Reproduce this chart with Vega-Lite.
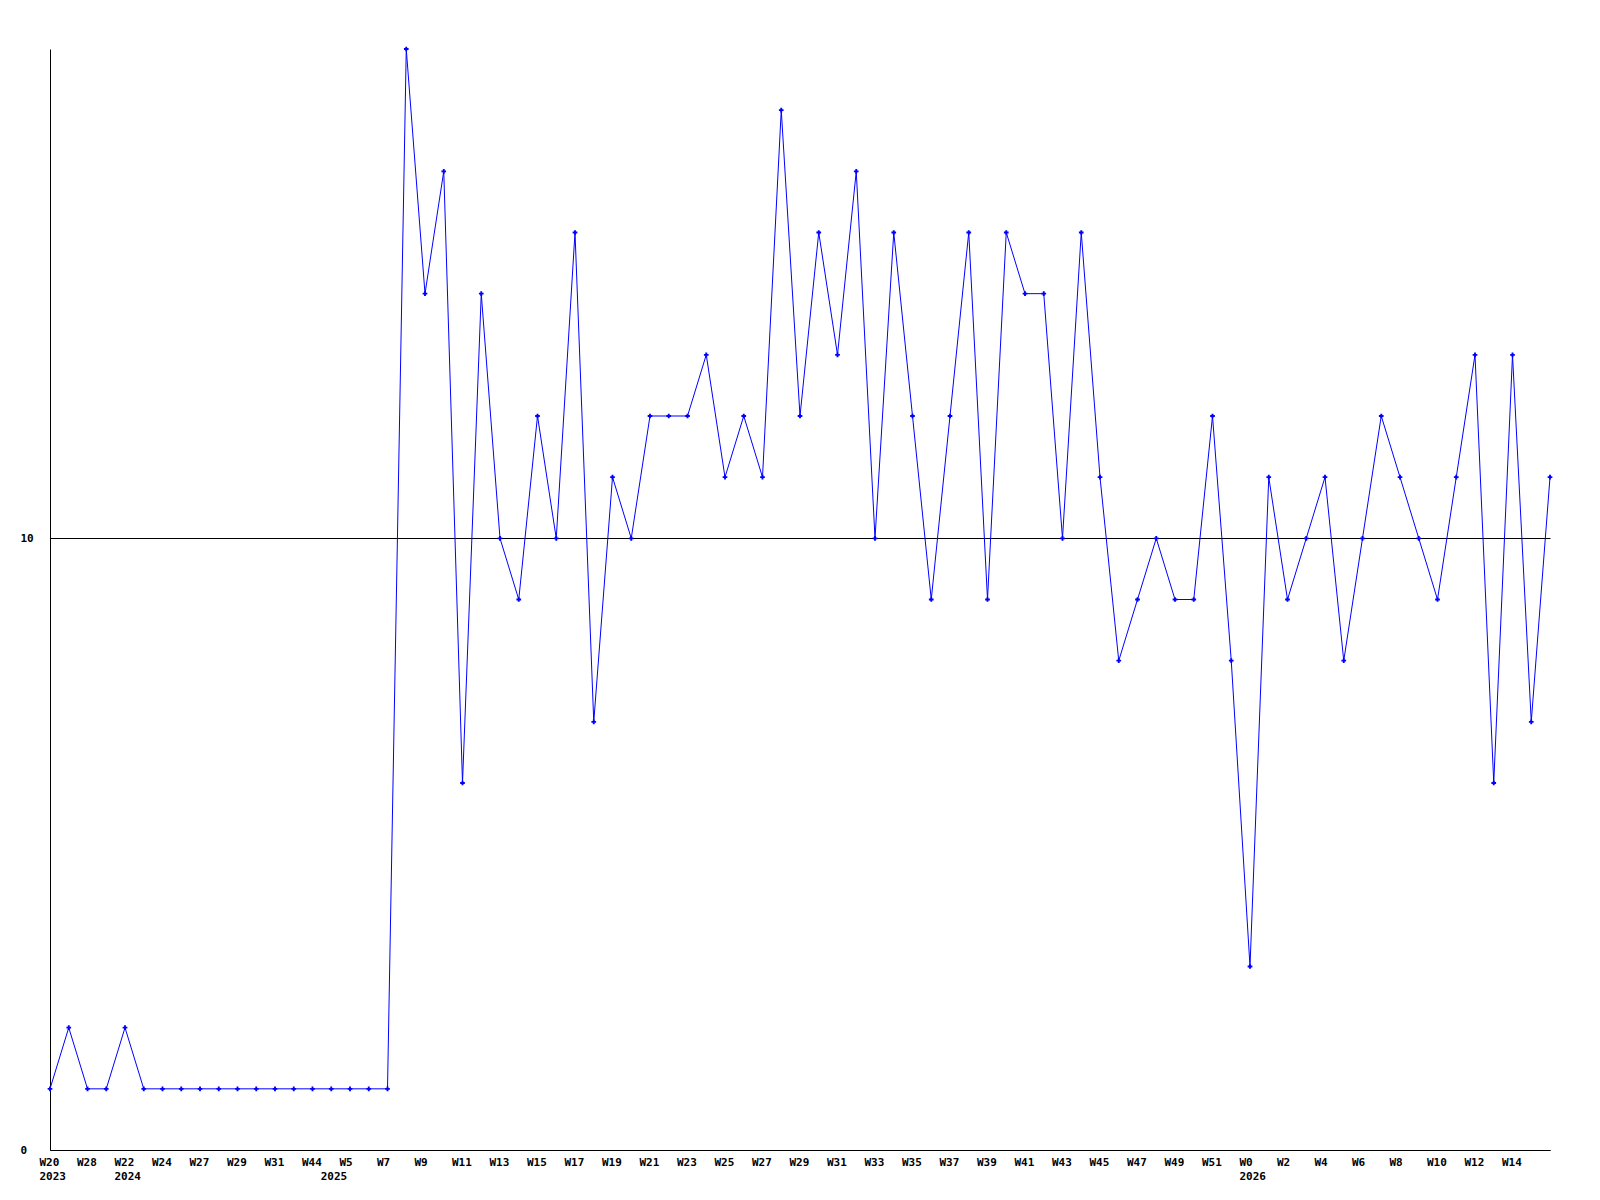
{
  "$schema": "https://vega.github.io/schema/vega-lite/v6.json",
  "width": 1500,
  "height": 1101,
  "autosize": {"type": "none"},
  "padding": {"left": 50, "top": 49, "right": 50, "bottom": 50},
  "background": "white",
  "config": {"view": {"stroke": null}, "font": "DejaVu Sans Mono"},
  "data": {"values": [
    {"week": "W20 2023", "value": 1},
    {"week": "W24 2023", "value": 2},
    {"week": "W28 2023", "value": 1},
    {"week": "W30 2023", "value": 1},
    {"week": "W22 2024", "value": 2},
    {"week": "W23 2024", "value": 1},
    {"week": "W24 2024", "value": 1},
    {"week": "W26 2024", "value": 1},
    {"week": "W27 2024", "value": 1},
    {"week": "W28 2024", "value": 1},
    {"week": "W29 2024", "value": 1},
    {"week": "W30 2024", "value": 1},
    {"week": "W31 2024", "value": 1},
    {"week": "W40 2024", "value": 1},
    {"week": "W44 2024", "value": 1},
    {"week": "W4 2025", "value": 1},
    {"week": "W5 2025", "value": 1},
    {"week": "W6 2025", "value": 1},
    {"week": "W7 2025", "value": 1},
    {"week": "W8 2025", "value": 18},
    {"week": "W9 2025", "value": 14},
    {"week": "W10 2025", "value": 16},
    {"week": "W11 2025", "value": 6},
    {"week": "W12 2025", "value": 14},
    {"week": "W13 2025", "value": 10},
    {"week": "W14 2025", "value": 9},
    {"week": "W15 2025", "value": 12},
    {"week": "W16 2025", "value": 10},
    {"week": "W17 2025", "value": 15},
    {"week": "W18 2025", "value": 7},
    {"week": "W19 2025", "value": 11},
    {"week": "W20 2025", "value": 10},
    {"week": "W21 2025", "value": 12},
    {"week": "W22 2025", "value": 12},
    {"week": "W23 2025", "value": 12},
    {"week": "W24 2025", "value": 13},
    {"week": "W25 2025", "value": 11},
    {"week": "W26 2025", "value": 12},
    {"week": "W27 2025", "value": 11},
    {"week": "W28 2025", "value": 17},
    {"week": "W29 2025", "value": 12},
    {"week": "W30 2025", "value": 15},
    {"week": "W31 2025", "value": 13},
    {"week": "W32 2025", "value": 16},
    {"week": "W33 2025", "value": 10},
    {"week": "W34 2025", "value": 15},
    {"week": "W35 2025", "value": 12},
    {"week": "W36 2025", "value": 9},
    {"week": "W37 2025", "value": 12},
    {"week": "W38 2025", "value": 15},
    {"week": "W39 2025", "value": 9},
    {"week": "W40 2025", "value": 15},
    {"week": "W41 2025", "value": 14},
    {"week": "W42 2025", "value": 14},
    {"week": "W43 2025", "value": 10},
    {"week": "W44 2025", "value": 15},
    {"week": "W45 2025", "value": 11},
    {"week": "W46 2025", "value": 8},
    {"week": "W47 2025", "value": 9},
    {"week": "W48 2025", "value": 10},
    {"week": "W49 2025", "value": 9},
    {"week": "W50 2025", "value": 9},
    {"week": "W51 2025", "value": 12},
    {"week": "W52 2025", "value": 8},
    {"week": "W0 2026", "value": 3},
    {"week": "W1 2026", "value": 11},
    {"week": "W2 2026", "value": 9},
    {"week": "W3 2026", "value": 10},
    {"week": "W4 2026", "value": 11},
    {"week": "W5 2026", "value": 8},
    {"week": "W6 2026", "value": 10},
    {"week": "W7 2026", "value": 12},
    {"week": "W8 2026", "value": 11},
    {"week": "W9 2026", "value": 10},
    {"week": "W10 2026", "value": 9},
    {"week": "W11 2026", "value": 11},
    {"week": "W12 2026", "value": 13},
    {"week": "W13 2026", "value": 6},
    {"week": "W14 2026", "value": 13},
    {"week": "W15 2026", "value": 7},
    {"week": "W16 2026", "value": 11}
  ]},
  "encoding": {
    "x": {
      "field": "week",
      "type": "ordinal",
      "sort": null,
      "scale": {"type": "point", "padding": 0},
      "axis": {
        "title": null,
        "domainColor": "black",
        "domainWidth": 1,
        "ticks": false,
        "grid": false,
        "labelAngle": 0,
        "labelAlign": "left",
        "labelOffset": -11,
        "labelFont": "DejaVu Sans Mono",
        "labelFontWeight": "bold",
        "labelFontSize": 11,
        "labelColor": "black",
        "labelPadding": 6,
        "labelBaseline": "top",
        "labelLineHeight": 14.5,
        "labelOverlap": false,
        "labelBound": false,
        "labelFlush": false,
        "values": ["W20 2023", "W28 2023", "W22 2024", "W24 2024", "W27 2024", "W29 2024", "W31 2024", "W44 2024", "W4 2025", "W5 2025", "W7 2025", "W9 2025", "W11 2025", "W13 2025", "W15 2025", "W17 2025", "W19 2025", "W21 2025", "W23 2025", "W25 2025", "W27 2025", "W29 2025", "W31 2025", "W33 2025", "W35 2025", "W37 2025", "W39 2025", "W41 2025", "W43 2025", "W45 2025", "W47 2025", "W49 2025", "W51 2025", "W0 2026", "W2 2026", "W4 2026", "W6 2026", "W8 2026", "W10 2026", "W12 2026", "W14 2026"],
        "labelExpr": "datum.value == 'W4 2025' ? ['', '2025'] : (indexof(['W20 2023','W22 2024','W0 2026'], datum.value) >= 0 ? split(datum.value, ' ') : split(datum.value, ' ')[0])"
      }
    },
    "y": {
      "field": "value",
      "type": "quantitative",
      "scale": {"domain": [0, 18], "nice": false, "zero": true},
      "axis": {
        "title": null,
        "values": [0, 10],
        "grid": true,
        "gridColor": "black",
        "gridOpacity": 1,
        "gridWidth": 1,
        "ticks": false,
        "domainColor": "black",
        "domainWidth": 1,
        "labelAlign": "left",
        "labelPadding": 30,
        "labelBaseline": "middle",
        "labelFont": "DejaVu Sans Mono",
        "labelFontWeight": "bold",
        "labelFontSize": 11,
        "labelColor": "black"
      }
    }
  },
  "layer": [
    {"mark": {"type": "line", "color": "#0000ff", "strokeWidth": 1}},
    {"mark": {"type": "point", "shape": "cross", "filled": true, "color": "#0000ff", "size": 22, "opacity": 1}}
  ]
}
